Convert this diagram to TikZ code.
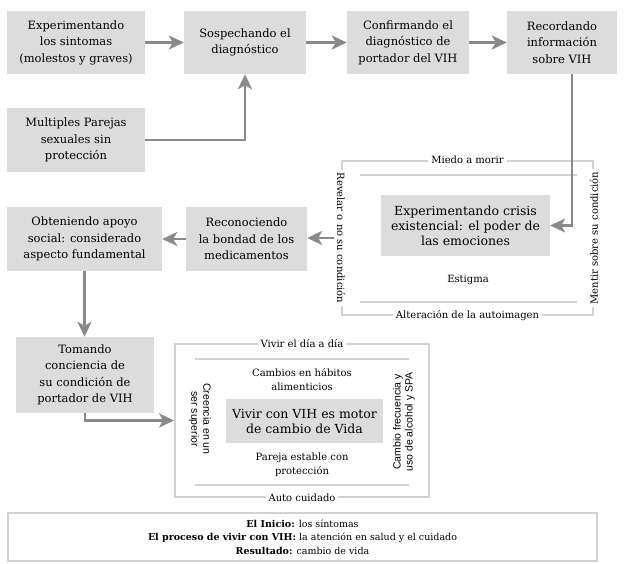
\documentclass[tikz,border=0pt]{standalone}
\usepackage{fontspec}
\setmainfont{DejaVu Serif}
\newfontfamily\labelsans{Liberation Sans}
\usetikzlibrary{arrows.meta}
\definecolor{boxgray}{HTML}{DCDCDC}
\definecolor{arrgray}{HTML}{8A8A8A}
\definecolor{framegray}{HTML}{D2D2D2}

\begin{document}
\begin{tikzpicture}[x=1pt,y=-1pt,
    box/.style={fill=boxgray,align=center,inner sep=2pt,font=\fontsize{11.5}{16.5}\selectfont},
    bigbox/.style={box,font=\fontsize{12.5}{15}\selectfont},
    arr/.style={-{Stealth[length=15pt,width=14pt,inset=4pt]},arrgray,line width=2.4pt},
    frm/.style={draw=framegray,line width=1.8pt,inner sep=0pt},
    lbl/.style={fill=white,align=center,inner sep=3pt,font=\fontsize{10}{14}\selectfont},
    sanslbl/.style={align=center,inner sep=2pt,font=\labelsans\fontsize{10.5}{12}\selectfont}]
    \useasboundingbox (0,0) rectangle (624,564);

    \node[box,minimum width=138pt,minimum height=63pt] (b1) at (76,42.5) {Experimentando\\los sintomas\\(molestos y graves)};
    \node[box,minimum width=122pt,minimum height=63pt] (b2) at (245,42.5) {Sospechando el\\diagnóstico};
    \node[box,minimum width=122pt,minimum height=63pt] (b3) at (408,42.5) {Confirmando el\\diagnóstico de\\portador del VIH};
    \node[box,minimum width=110pt,minimum height=63pt] (b4) at (562,42.5) {Recordando\\información\\sobre VIH};
    \node[box,minimum width=138pt,minimum height=64pt] (b5) at (76,140) {Multiples Parejas\\sexuales sin\\protección};

    \node[frm,minimum width=251pt,minimum height=154pt] (cframe) at (467.5,238) {};
    \draw[framegray,line width=1.8pt] (360,175) -- (577,175) (360,302) -- (577,302);
    \node[bigbox,minimum width=169pt,minimum height=61pt] (crisis) at (465.5,225.5) {Experimentando crisis\\existencial: el poder de\\las emociones};
    \node[lbl] (miedo) at (cframe.north) {Miedo a morir};
    \node[lbl] (alteracion) at (cframe.south) {Alteración de la autoimagen};
    \node[lbl,rotate=-90] (revelar) at (cframe.west) {Revelar o no su condición};
    \node[lbl,rotate=90] (mentir) at (cframe.east) {Mentir sobre su condición};
    \node[lbl,fill=none] (estigma) at (468,280) {Estigma};

    \node[box,minimum width=121pt,minimum height=64pt] (recon) at (246.5,239) {Reconociendo\\la bondad de los\\medicamentos};
    \node[box,minimum width=155pt,minimum height=64pt] (obten) at (84.5,239) {Obteniendo apoyo\\social: considerado\\aspecto fundamental};
    \node[box,minimum width=138pt,minimum height=76pt] (tomando) at (85,375) {Tomando\\conciencia de\\su condición de\\portador de VIH};

    \node[frm,minimum width=254pt,minimum height=153pt] (vframe) at (302,420.5) {};
    \draw[framegray,line width=1.8pt] (195,359) -- (409,359) (195,485) -- (409,485);
    \node[lbl] (diaadia) at (vframe.north) {Vivir el día a día};
    \node[lbl] (autocuidado) at (vframe.south) {Auto cuidado};
    \node[lbl,fill=none] (habitos) at (302,380) {Cambios en hábitos\\alimenticios};
    \node[bigbox,minimum width=157pt,minimum height=44pt] (motor) at (304.5,421) {Vivir con VIH es motor\\de cambio de Vida};
    \node[lbl,fill=none] (pareja) at (302,465) {Pareja estable con\\protección};
    \node[sanslbl,rotate=-90] (creencia) at (200,419) {Creencia en un\\ser superior};
    \node[sanslbl,rotate=90] (cambio) at (404,422) {Cambio frecuencia y\\uso de alcohol y SPA};

    \node[draw=framegray,line width=2.4pt,minimum width=589pt,minimum height=48pt,align=center,font=\fontsize{9.5}{13.5}\selectfont] (resumen) at (302.5,537) {\textbf{El Inicio:} los síntomas\\\textbf{El proceso de vivir con VIH:} la atención en salud y el cuidado\\\textbf{Resultado:} cambio de vida};

    \draw[arr] (b1) -- (b2);
    \draw[arr] (b2) -- (b3);
    \draw[arr] (b3) -- (b4);
    \draw[arr] (b5) -| (b2);
    \draw[arr] ([xshift=10pt]b4.south) |- (crisis);
    \draw[arr] (revelar.south) -- (revelar.south -| recon.east);
    \draw[arr] (recon) -- (obten);
    \draw[arr] (obten.south) -- (obten.south |- tomando.north);
    \draw[arr] (tomando) |- (vframe);
\end{tikzpicture}
\end{document}
